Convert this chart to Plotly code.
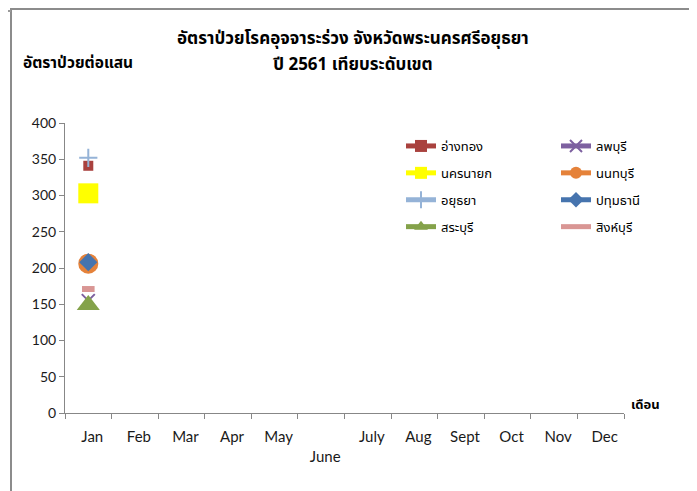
import plotly.graph_objects as go

months = ["Jan", "Feb", "Mar", "Apr", "May", "June", "July", "Aug", "Sept", "Oct", "Nov", "Dec"]

# Jan values only (other months empty)
s_angthong = [341]
s_lopburi = [155]
s_nakhonnayok = [303]
s_nonthaburi = [206]
s_ayutthaya = [352]
s_pathumthani = [208]
s_saraburi = [149]
s_singburi = [171]

series_names = ["อ่างทอง", "ลพบุรี", "นครนายก", "นนทบุรี", "อยุธยา", "ปทุมธานี", "สระบุรี", "สิงห์บุรี"]
series_values = [s_angthong, s_lopburi, s_nakhonnayok, s_nonthaburi, s_ayutthaya, s_pathumthani, s_saraburi, s_singburi]
y_ticks = [0, 50, 100, 150, 200, 250, 300, 350, 400]
title_lines = ["อัตราป่วยโรคอุจจาระร่วง จังหวัดพระนครศรีอยุธยา", "ปี 2561 เทียบระดับเขต"]
y_title = "อัตราป่วยต่อแสน"
x_title = "เดือน"

styles = {
    "อ่างทอง": dict(color="#A9413E", symbol="square", size=10, lw=0, legend="legend"),
    "ลพบุรี": dict(color="#7D60A0", symbol="x-thin", size=13, lw=2, legend="legend2"),
    "นครนายก": dict(color="#FFFF00", symbol="square", size=20, lw=0, legend="legend"),
    "นนทบุรี": dict(color="#E5823A", symbol="circle", size=20, lw=0, legend="legend2"),
    "อยุธยา": dict(color="#95B3D7", symbol="cross-thin", size=13, lw=2, legend="legend"),
    "ปทุมธานี": dict(color="#4674AE", symbol="diamond", size=14, lw=0, legend="legend2"),
    "สระบุรี": dict(color="#84A24A", symbol="triangle-up", size=20, lw=0, legend="legend"),
    "สิงห์บุรี": dict(color="#D99694", symbol="line-ew", size=9, lw=6, legend="legend2"),
}

THAI = "Tahoma, 'Noto Sans Thai', 'Leelawadee UI', 'Loma', sans-serif"
LAT = "Lato, 'Open Sans', sans-serif"

fig = go.Figure()
draw_order = ["นครนายก", "อ่างทอง", "อยุธยา", "นนทบุรี", "ปทุมธานี", "ลพบุรี", "สระบุรี", "สิงห์บุรี"]
for name in draw_order:
    vals = series_values[series_names.index(name)]
    st = styles[name]
    y = vals + [None] * (len(months) - len(vals))
    mk = dict(symbol=st["symbol"], size=st["size"], color=st["color"])
    mk["line"] = dict(color=st["color"], width=st["lw"]) if st["lw"] else dict(width=0)
    fig.add_trace(go.Scatter(
        x=months, y=y, name=name, mode="lines+markers",
        line=dict(color=st["color"], width=3),
        marker=mk, legend=st["legend"], legendgroup=name,
        legendrank=series_names.index(name),
    ))

# page body has an 8px margin; work in reference pixel coords and shift
OFF = 8
W, H = 697 - OFF, 491 - OFF
ax_l, ax_r, ax_t, ax_b = 65 - OFF, 624 - OFF, 123 - OFF, 413 - OFF
L, R, T, B = ax_l, W - ax_r, ax_t, H - ax_b
pw, ph = ax_r - ax_l, ax_b - ax_t

def px2x(px):
    return (px - OFF - L) / pw

def py2y(py):
    return (H - B - (py - OFF)) / ph

axis_col = "#878787"
leg_common = dict(xanchor="left", yanchor="top", orientation="v",
                  font=dict(family=THAI, size=13, color="black"), tracegroupgap=7,
                  bgcolor="rgba(0,0,0,0)", itemsizing="constant", traceorder="grouped")
fig.update_layout(
    width=W, height=H,
    margin=dict(l=L, r=R, t=T, b=B),
    paper_bgcolor="white", plot_bgcolor="white",
    font=dict(family=LAT, size=12, color="black"),
    showlegend=True,
    xaxis=dict(type="category", categoryorder="array", categoryarray=months,
               range=[-0.5, 11.5], tickmode="array", tickvals=months,
               ticktext=[("<br>" + m) if m == "June" else m for m in months],
               tickson="boundaries", ticks="outside", ticklen=5, tickcolor=axis_col,
               showline=True, linecolor=axis_col, linewidth=1, showgrid=False, zeroline=False,
               tickfont=dict(family=LAT, size=15, color="#1a1a1a"), ticklabelshift=4, ticklabelstandoff=10),
    yaxis=dict(range=[0, 400], tickmode="array", tickvals=y_ticks, ticks="outside", ticklen=5,
               tickcolor=axis_col, showline=True, linecolor=axis_col, linewidth=1, showgrid=False,
               zeroline=False, tickfont=dict(family=LAT, size=14, color="#1a1a1a")),
    legend=dict(x=px2x(401), y=py2y(131), **leg_common),
    legend2=dict(x=px2x(556), y=py2y(131), **leg_common),
    annotations=[
        dict(text="<b>" + title_lines[0] + "</b>", x=px2x(353), y=py2y(39), xref="paper", yref="paper",
             showarrow=False, font=dict(family=THAI, size=17, color="black"), xanchor="center", yanchor="middle"),
        dict(text="<b>" + title_lines[1] + "</b>", x=px2x(353), y=py2y(65), xref="paper", yref="paper",
             showarrow=False, font=dict(family=THAI, size=17, color="black"), xanchor="center", yanchor="middle"),
        dict(text="<b>" + y_title + "</b>", x=px2x(21), y=py2y(63), xref="paper", yref="paper", showarrow=False,
             font=dict(family=THAI, size=15.5, color="black"), xanchor="left", yanchor="middle"),
        dict(text="<b>" + x_title + "</b>", x=px2x(629), y=py2y(405), xref="paper", yref="paper", showarrow=False,
             font=dict(family=THAI, size=13, color="black"), xanchor="left", yanchor="middle"),
    ],
    shapes=[
        dict(type="rect", xref="paper", yref="paper", x0=px2x(11), x1=px2x(691), y0=py2y(510), y1=py2y(9),
             line=dict(color="#8C8C8C", width=2), fillcolor="rgba(0,0,0,0)", layer="below"),
        dict(type="line", xref="paper", yref="paper", x0=px2x(0), x1=px2x(11), y0=py2y(11), y1=py2y(11),
             line=dict(color="#9A9A9A", width=2)),
    ],
)

fig.write_html("out.html")
